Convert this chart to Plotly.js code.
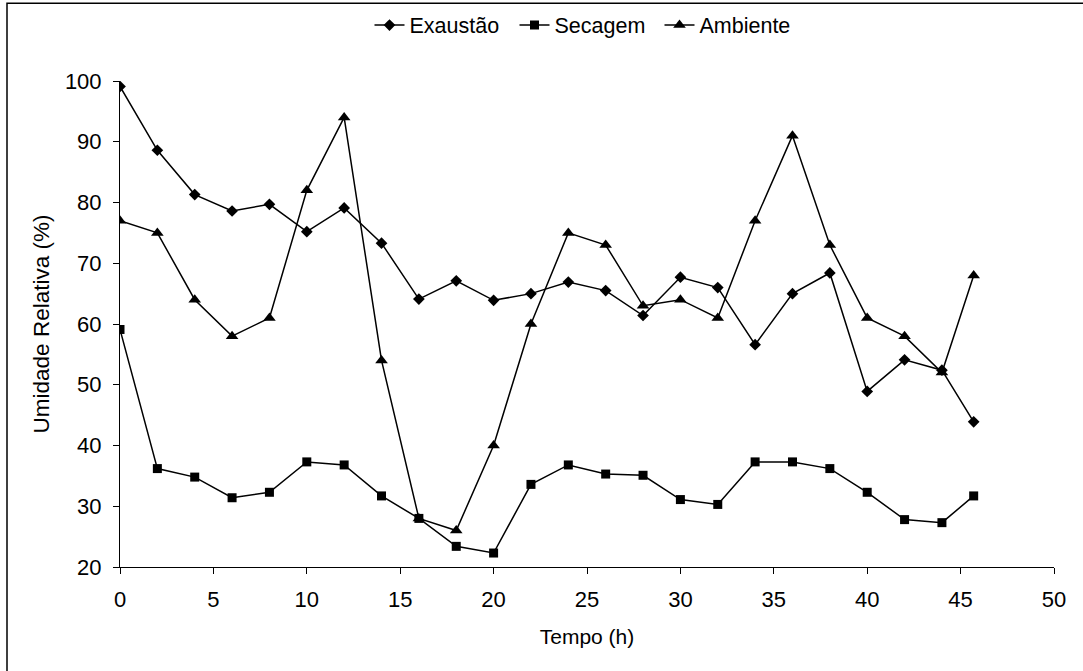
<!DOCTYPE html>
<html>
<head>
<meta charset="utf-8">
<script src="https://cdn.plot.ly/plotly-3.0.1.min.js"></script>
<style>html,body{margin:0;padding:0;background:#fff;}#chart{width:1083px;height:671px;}</style>
</head>
<body>
<div id="chart"></div>
<script>
var seriesNames = ["Exaustão", "Secagem", "Ambiente"];
var tempo = [0, 2, 4, 6, 8, 10, 12, 14, 16, 18, 20, 22, 24, 26, 28, 30, 32, 34, 36, 38, 40, 42, 44, 45.7];
var exaustao = [99.1, 88.6, 81.3, 78.6, 79.7, 75.2, 79.1, 73.3, 64.1, 67.1, 63.9, 65.0, 66.9, 65.5, 61.4, 67.7, 66.0, 56.6, 65.0, 68.4, 48.9, 54.1, 52.4, 43.9];
var secagem = [59.1, 36.2, 34.8, 31.4, 32.3, 37.3, 36.8, 31.7, 28.0, 23.4, 22.3, 33.6, 36.8, 35.3, 35.1, 31.1, 30.3, 37.3, 37.3, 36.2, 32.3, 27.8, 27.3, 31.7];
var ambiente = [77, 75, 64, 58, 61, 82, 94, 54, 28, 26, 40, 60, 75, 73, 63, 64, 61, 77, 91, 73, 61, 58, 52, 68];
var xTicks = [0, 5, 10, 15, 20, 25, 30, 35, 40, 45, 50];
var yTicks = [20, 30, 40, 50, 60, 70, 80, 90, 100];

var font = "Arial, 'Liberation Sans', sans-serif";
function tr(name, y, sym, size) {
  return {
    x: tempo, y: y, name: name, type: "scatter", mode: "lines+markers",
    line: {color: "#000", width: 1.5},
    marker: {symbol: sym, size: size, color: "#000", line: {width: 0}}
  };
}
var data = [
  tr(seriesNames[0], exaustao, "diamond", 9),
  tr(seriesNames[1], secagem, "square", 9),
  tr(seriesNames[2], ambiente, "triangle-up", 11)
];
var layout = {
  width: 1083, height: 671,
  margin: {l: 120, r: 29, t: 81, b: 104, autoexpand: false},
  paper_bgcolor: "#fff", plot_bgcolor: "#fff",
  font: {family: font, size: 21, color: "#000"},
  showlegend: true,
  legend: {orientation: "h", x: 0.5, xanchor: "center", y: 1.115, yanchor: "middle",
           font: {family: font, size: 21.5, color: "#000"}, itemwidth: 30,
           entrywidth: 100, entrywidthmode: "pixels", bgcolor: "rgba(0,0,0,0)"},
  xaxis: {
    range: [0, 50], tickvals: xTicks, ticktext: xTicks.map(String),
    showgrid: false, zeroline: false, showline: true, linecolor: "#000", linewidth: 1,
    ticks: "outside", ticklen: 6, tickcolor: "#000", tickwidth: 1,
    ticklabelstandoff: 7, tickfont: {family: font, size: 22, color: "#000"},
    title: {text: "Tempo (h)", font: {family: font, size: 21, color: "#000"}, standoff: 17}
  },
  yaxis: {
    range: [20, 100], tickvals: yTicks, ticktext: yTicks.map(String),
    showgrid: false, zeroline: false, showline: true, linecolor: "#000", linewidth: 1,
    ticks: "outside", ticklen: 6, tickcolor: "#000", tickwidth: 1,
    ticklabelstandoff: 7, tickfont: {family: font, size: 22, color: "#000"},
    title: {text: "Umidade Relativa (%)", font: {family: font, size: 22.5, color: "#000"}, standoff: 9}
  },
  shapes: [{
    type: "rect", xref: "paper", yref: "paper",
    x0: (7 - 120) / 934, x1: (1095 - 120) / 934,
    y0: (566.7 - 690) / 486, y1: (566.7 - 3) / 486,
    line: {color: "#000", width: 1.5}, fillcolor: "rgba(0,0,0,0)", layer: "below"
  }]
};
Plotly.newPlot("chart", data, layout, {displayModeBar: false, staticPlot: true});
</script>
</body>
</html>
